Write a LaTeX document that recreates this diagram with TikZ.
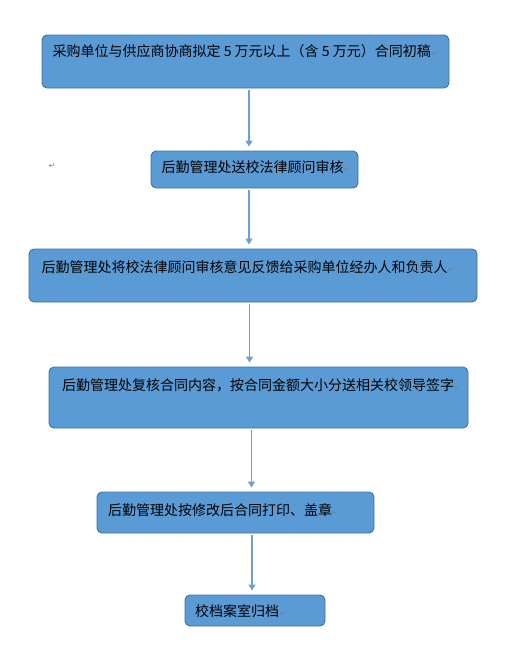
\documentclass[tikz,border=0pt]{standalone}
\usepackage{fontspec}
\setmainfont{Noto Sans CJK SC}
\newfontfamily\symfont{DejaVu Sans}
\usetikzlibrary{arrows.meta}
\definecolor{boxfill}{HTML}{5B9BD5}
\definecolor{boxdraw}{HTML}{41719C}
\definecolor{arrcol}{HTML}{6F9FD8}
\definecolor{pmgray}{HTML}{808080}
\newcommand\retmark{{\color{pmgray}\symfont\fontsize{8}{8}\selectfont ↵}}
\tikzset{
  flowbox/.style={draw=boxdraw, fill=boxfill, line width=0.9pt, rounded corners=5pt, inner sep=0pt},
  boxtext/.style={anchor=west, inner sep=0pt, font=\fontsize{14}{16}\selectfont, text=black},
  arr/.style={draw=arrcol, line width=1.6pt, -{Triangle[width=7pt,length=6pt]}, shorten <=2pt, shorten >=4pt}
}
\begin{document}
\begin{tikzpicture}[x=1pt,y=-1pt]
\useasboundingbox (0,0) rectangle (518,670);
% boxes
\node[flowbox, minimum width=407pt, minimum height=53pt] (b1) at (245.5,61.5) {};
\node[flowbox, minimum width=207pt, minimum height=37pt] (b2) at (254.5,169.5) {};
\node[flowbox, minimum width=448pt, minimum height=53pt] (b3) at (253,275.5) {};
\node[flowbox, minimum width=419pt, minimum height=61pt] (b4) at (258.5,397.5) {};
\node[flowbox, minimum width=277pt, minimum height=41pt] (b5) at (235.5,512.5) {};
\node[flowbox, minimum width=140pt, minimum height=31pt] (b6) at (255,610.5) {};
% texts
\node[boxtext] (t1) at (52.5,51.5) {采购单位与供应商协商拟定 5 万元以上（含 5 万元）合同初稿\retmark};
\node[boxtext] (t2) at (161.5,167) {后勤管理处送校法律顾问审核\retmark};
\node[boxtext] (t3) at (41.5,267) {后勤管理处将校法律顾问审核意见反馈给采购单位经办人和负责人\retmark};
\node[boxtext] (t4) at (62,385) {后勤管理处复核合同内容，按合同金额大小分送相关校领导签字\retmark};
\node[boxtext] (t5) at (108,510) {后勤管理处按修改后合同打印、盖章\retmark};
\node[boxtext] (t6) at (195,611.5) {校档案室归档\retmark};
\node[inner sep=0pt] (pm) at (52,166) {\retmark};
% arrows
\draw[arr] (b1.south -| 249,0) -- (b2.north -| 249,0);
\draw[arr] (b2.south -| 249,0) -- (b3.north -| 249,0);
\draw[arr] (b3.south -| 249.5,0) -- (b4.north -| 249.5,0);
\draw[arr] (b4.south -| 251.5,0) -- (b5.north -| 251.5,0);
\draw[arr] (b5.south -| 252,0) -- (b6.north -| 252,0);
\end{tikzpicture}
\end{document}
